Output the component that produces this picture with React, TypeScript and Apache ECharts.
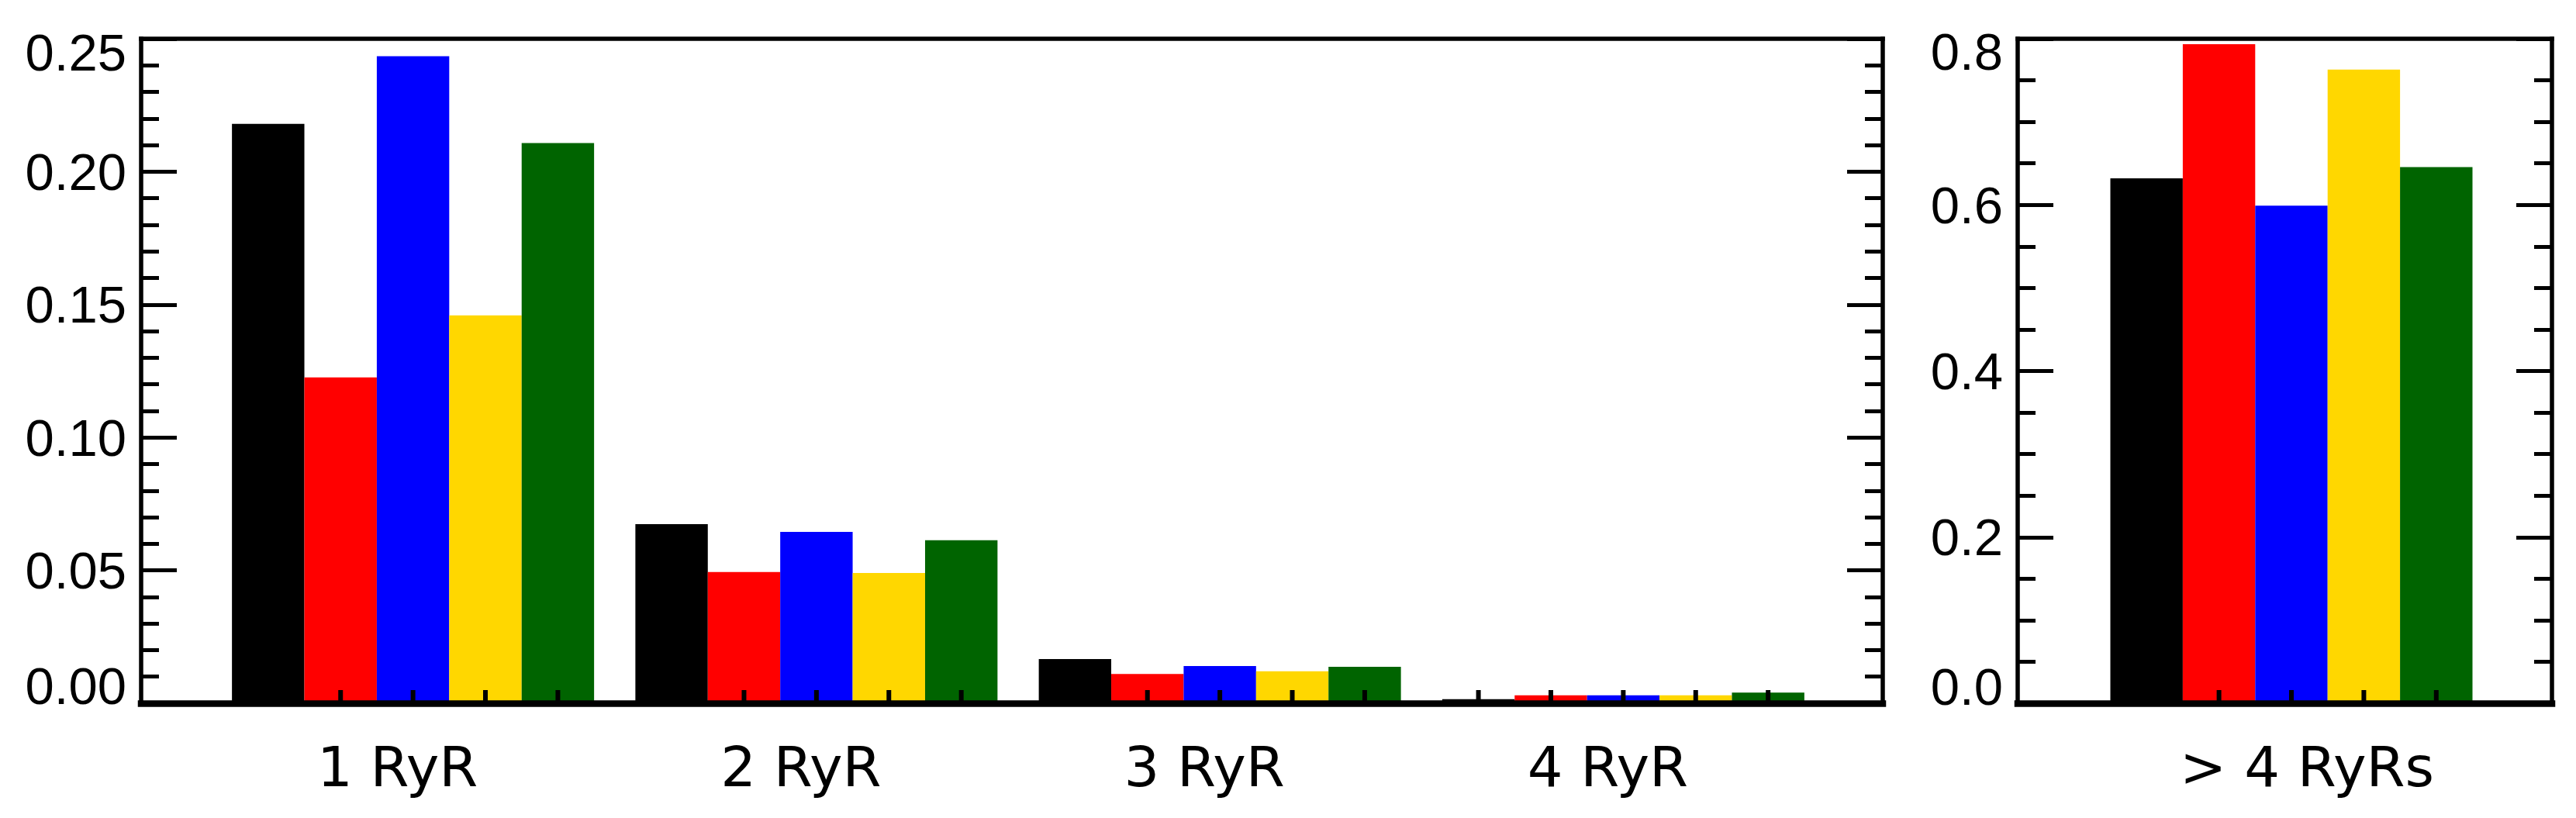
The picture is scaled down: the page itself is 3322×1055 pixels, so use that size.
import React, { useEffect, useRef } from "react";
import * as echarts from "echarts";

const leftCategories = ["1 RyR", "2 RyR", "3 RyR", "4 RyR"];
const rightCategories = ["> 4 RyRs"];

const seriesNames = ["Set 1", "Set 2", "Set 3", "Set 4", "Set 5"];
const seriesColors = ["#000000", "#ff0000", "#0000ff", "#ffd700", "#006400"];

const blackLeft = [0.218, 0.0674, 0.0166, 0.0015];
const redLeft = [0.1226, 0.0494, 0.011, 0.003];
const blueLeft = [0.2434, 0.0645, 0.014, 0.003];
const yellowLeft = [0.1459, 0.049, 0.012, 0.003];
const greenLeft = [0.2108, 0.0613, 0.0137, 0.004];

const blackRight = [0.632];
const redRight = [0.7935];
const blueRight = [0.599];
const yellowRight = [0.763];
const greenRight = [0.6455];

const leftTicks = [0, 0.05, 0.1, 0.15, 0.2, 0.25];
const rightTicks = [0, 0.2, 0.4, 0.6, 0.8];

const leftValues = [blackLeft, redLeft, blueLeft, yellowLeft, greenLeft];
const rightValues = [blackRight, redRight, blueRight, yellowRight, greenRight];

const BAR_W = 93.4;
const TOP = 50;
const PLOT_H = 857;
const NUM_FONT = "Liberation Sans";
const CAT_FONT = "DejaVu Sans";

function App() {
  const ref = useRef<HTMLDivElement>(null);

  useEffect(() => {
    if (!ref.current) return;
    const chart = echarts.init(ref.current, null, { renderer: "svg" });

    const lineStyle = (w: number) => ({ color: "#000", width: w, cap: "square" as const });

    const numRich = (padTop: number, padBottom: number) => ({
      fontSize: 67,
      fontFamily: NUM_FONT,
      color: "#000",
      padding: [padTop, 0, padBottom, 0],
    });

    const makeYAxis = (
      gridIndex: number,
      ticks: number[],
      decimals: number,
      minorSplit: number,
      position: "left" | "right",
      showLabel: boolean,
      padMax: number,
      padMin: number
    ) => {
      const min = ticks[0];
      const max = ticks[ticks.length - 1];
      return {
        type: "value",
        gridIndex,
        position,
        min,
        max,
        interval: ticks[1] - ticks[0],
        axisLine: { show: true, onZero: false, lineStyle: lineStyle(5.5) },
        axisTick: { show: true, inside: true, length: 46, lineStyle: { color: "#000", width: 5 } },
        minorTick: { show: true, splitNumber: minorSplit, length: 23, lineStyle: { color: "#000", width: 5 } },
        splitLine: { show: false },
        axisLabel: {
          show: showLabel,
          margin: 19,
          formatter: (v: number) => {
            const s = v.toFixed(decimals);
            if (Math.abs(v - max) < 1e-9) return "{mx|" + s + "}";
            if (Math.abs(v - min) < 1e-9) return "{mn|" + s + "}";
            return "{n|" + s + "}";
          },
          rich: {
            mx: numRich(padMax, 0),
            mn: numRich(0, padMin),
            n: numRich(0, 0),
          },
        },
        z: 5,
      };
    };

    const hiddenY = (gridIndex: number, ticks: number[]) => ({
      type: "value",
      gridIndex,
      min: ticks[0],
      max: ticks[ticks.length - 1],
      show: false,
    });

    const frameX = (gridIndex: number, position: "top" | "bottom", w: number) => ({
      type: "value",
      gridIndex,
      position,
      min: 0,
      max: 1,
      axisLine: { show: true, onZero: false, lineStyle: lineStyle(w) },
      axisTick: { show: false },
      axisLabel: { show: false },
      splitLine: { show: false },
      z: 5,
    });

    const catX = (gridIndex: number, cats: string[], shift: number) => ({
      type: "category",
      gridIndex,
      data: cats,
      axisLine: { show: false },
      axisTick: { show: false },
      splitLine: { show: false },
      axisLabel: {
        show: true,
        margin: 46,
        interval: 0,
        formatter: (v: string) => "{c|" + v + "}",
        rich: {
          c: {
            fontSize: 72,
            fontFamily: CAT_FONT,
            color: "#000",
            padding: shift < 0 ? [0, -2 * shift, 0, 0] : [0, 0, 0, 2 * shift],
          },
        },
      },
    });

    const barSeries = (xIdx: number, yIdx: number, values: number[][]) =>
      values.map((vals, i) => ({
        type: "bar",
        name: seriesNames[i],
        xAxisIndex: xIdx,
        yAxisIndex: yIdx,
        data: vals,
        barWidth: BAR_W,
        barGap: "0%",
        itemStyle: { color: seriesColors[i] },
        z: 2,
      }));

    const tickData = (cats: string[]) => {
      const out: number[][] = [];
      cats.forEach((_, c) => {
        seriesNames.forEach((__, s) => out.push([c, s]));
      });
      return out;
    };

    const tickSeries = (xIdx: number, yIdx: number, cats: string[]) => ({
      type: "custom",
      xAxisIndex: xIdx,
      yAxisIndex: yIdx,
      data: tickData(cats),
      z: 6,
      silent: true,
      clip: false,
      renderItem: (params: any, api: any) => {
        const p = api.coord([api.value(0), 0]);
        const x = p[0] + (api.value(1) - 2) * BAR_W;
        return {
          type: "line",
          shape: { x1: x, y1: p[1], x2: x, y2: p[1] - 17 },
          style: { stroke: "#000", lineWidth: 6 },
        };
      },
    });

    const option: any = {
      animation: false,
      backgroundColor: "#ffffff",
      grid: [
        { left: 182, top: TOP, width: 2246, height: PLOT_H, containLabel: false },
        { left: 272.5, top: TOP, width: 2081, height: PLOT_H, containLabel: false },
        { left: 2602, top: TOP, width: 689, height: PLOT_H, containLabel: false },
        { left: 2721.5, top: TOP, width: 467, height: PLOT_H, containLabel: false },
      ],
      xAxis: [
        frameX(0, "bottom", 8.5), // 0
        frameX(0, "top", 5.5), // 1
        catX(1, leftCategories, -20), // 2
        frameX(2, "bottom", 8.5), // 3
        frameX(2, "top", 5.5), // 4
        catX(3, rightCategories, 20), // 5
      ],
      yAxis: [
        makeYAxis(0, leftTicks, 2, 5, "left", true, 34, 46), // 0
        makeYAxis(0, leftTicks, 2, 5, "right", false, 0, 0), // 1
        hiddenY(1, leftTicks), // 2
        makeYAxis(2, rightTicks, 1, 4, "left", true, 32, 44), // 3
        makeYAxis(2, rightTicks, 1, 4, "right", false, 0, 0), // 4
        hiddenY(3, rightTicks), // 5
      ],
      series: [
        ...barSeries(2, 2, leftValues),
        ...barSeries(5, 5, rightValues),
        tickSeries(2, 2, leftCategories),
        tickSeries(5, 5, rightCategories),
      ],
    };

    chart.setOption(option);
    return () => {
      chart.dispose();
    };
  }, []);

  return (
    <div
      ref={ref}
      style={{ position: "fixed", left: 0, top: 0, width: 3322, height: 1055, background: "#fff" }}
    />
  );
}

export default App;
